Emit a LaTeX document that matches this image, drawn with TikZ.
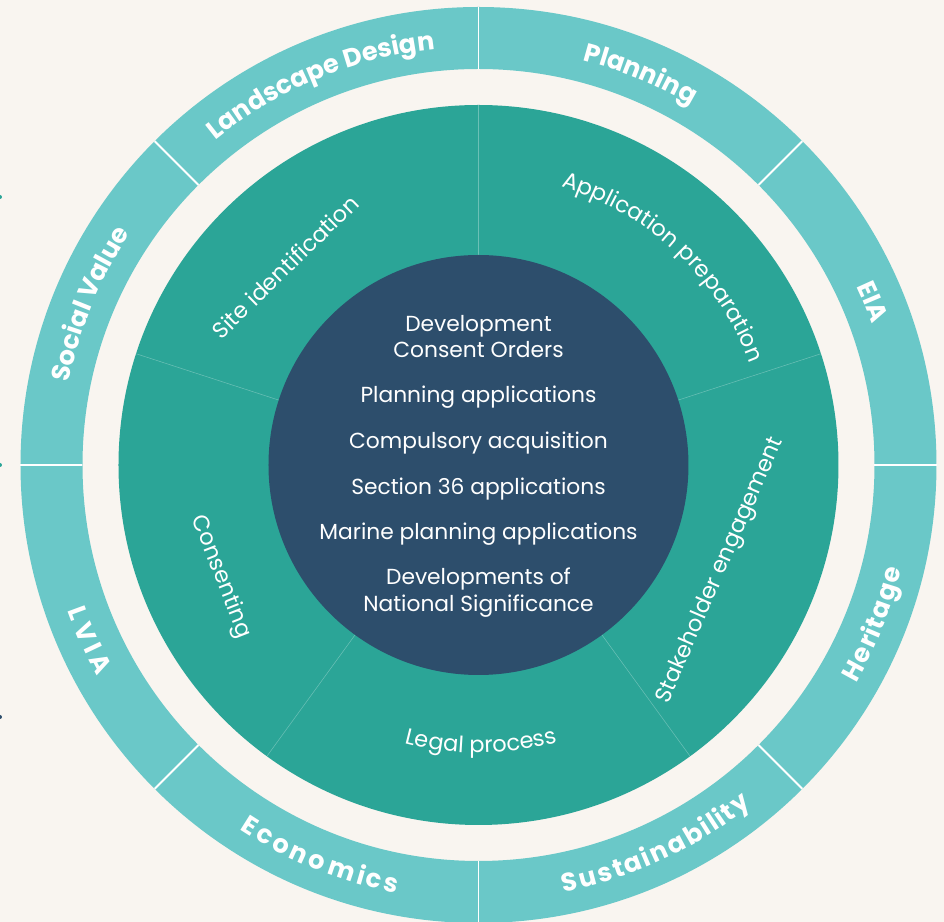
\documentclass[tikz,border=0pt]{standalone}
\usepackage{fontspec}
\setmainfont{Poppins}
\usetikzlibrary{decorations.text}

\definecolor{fon}{RGB}{249,245,240}
\definecolor{kolco}{RGB}{106,200,200}
\definecolor{sreda}{RGB}{43,165,151}
\definecolor{yadro}{RGB}{45,78,108}

\newcommand\ringlbl{\bfseries\fontsize{14.6}{17}\selectfont}
\newcommand\sektlbl{\fontsize{12.8}{15}\selectfont}

\begin{document}
\begin{tikzpicture}[x=0.02cm, y=0.02cm,
        vnutr/.style={text=white, font=\fontsize{12.4}{15}\selectfont, anchor=base, inner sep=0pt},
        sektor/.style={text=white, font=\sektlbl, inner sep=0pt},
        razdel/.style={white, line width=1.1pt},
        shov/.style={white, opacity=0.3, line width=0.3pt},
        dugatext/.style={decorate, decoration={text along path, text align=center, text color=white, text={#1}}},
        razgon/.style={decorate, decoration={text effects along path, text={#1},
            text effects/.cd, text along path, fit text to path, characters={text=white, font=\ringlbl}}}]
        \useasboundingbox (-478.5,-457) rectangle (465.5,465);
        \fill[fon] (-478.5,-457) rectangle (465.5,465);

        % Метки у левого края
        \fill[sreda] (-478.5,268) circle[radius=2];
        \fill[sreda] (-478.5,0) circle[radius=2];
        \fill[yadro] (-478.5,-252) circle[radius=2];

        % Внешнее кольцо
        \fill[kolco, even odd rule] (0,0) circle[radius=458] (0,0) circle[radius=396];
        \foreach \a in {0,45,...,315} \draw[razdel] (\a:396) -- (\a:458);

        % Среднее кольцо и ядро
        \fill[sreda] (0,0) circle[radius=360];
        \foreach \a in {18,90,162,234,306} \draw[shov] (\a:210) -- (\a:360);
        \fill[yadro] (0,0) circle[radius=210];

        % Подписи внешнего кольца (верх)
        \path[dugatext={|\ringlbl|Planning}] (107.5:418) arc[start angle=107.5, end angle=27.5, radius=418];
        \path[dugatext={|\ringlbl|Landscape Design}] (152.5:418) arc[start angle=152.5, end angle=72.5, radius=418];
        \path[dugatext={|\ringlbl|Social Value}] (197.5:418) arc[start angle=197.5, end angle=117.5, radius=418];
        \path[dugatext={|\ringlbl|EIA}] (62.5:418) arc[start angle=62.5, end angle=-17.5, radius=418];

        % Подписи внешнего кольца (низ, разрядка)
        \path[razgon={Heritage}] (330:436) arc[start angle=330, end angle=346.2, radius=436];
        \path[razgon={Sustainability}] (281.3:436) arc[start angle=281.3, end angle=308.8, radius=436];
        \path[razgon={Economics}] (236.8:436) arc[start angle=236.8, end angle=259.2, radius=436];
        \path[razgon={LVIA}] (199.5:436) arc[start angle=199.5, end angle=209, radius=436];

        % Подписи секторов
        \path[dugatext={|\sektlbl|Application preparation}] (92:290) arc[start angle=92, end angle=2, radius=290];
        \path[dugatext={|\sektlbl|Legal process}] (230.5:288) arc[start angle=230.5, end angle=310.5, radius=288];
        \node[sektor, rotate=44.3] (site) at (134.3:277) {Site identification};
        \node[sektor, rotate=66.5] (stake) at (-23.5:264) {Stakeholder engagement};
        \node[sektor, rotate=-68.5] (cons) at (203.5:281) {Consenting};

        % Центр
        \node[vnutr] (dco) at (0,133) {Development};
        \node[vnutr] (dco2) at (0,107) {Consent Orders};
        \node[vnutr] (plan) at (0,62) {Planning applications};
        \node[vnutr] (cpo) at (0,16) {Compulsory acquisition};
        \node[vnutr] (sec) at (0,-30) {Section 36 applications};
        \node[vnutr] (marine) at (0,-75) {Marine planning applications};
        \node[vnutr] (nsip) at (0,-120) {Developments of};
        \node[vnutr] (nsip2) at (0,-146.5) {National Significance};
    \end{tikzpicture}
\end{document}
